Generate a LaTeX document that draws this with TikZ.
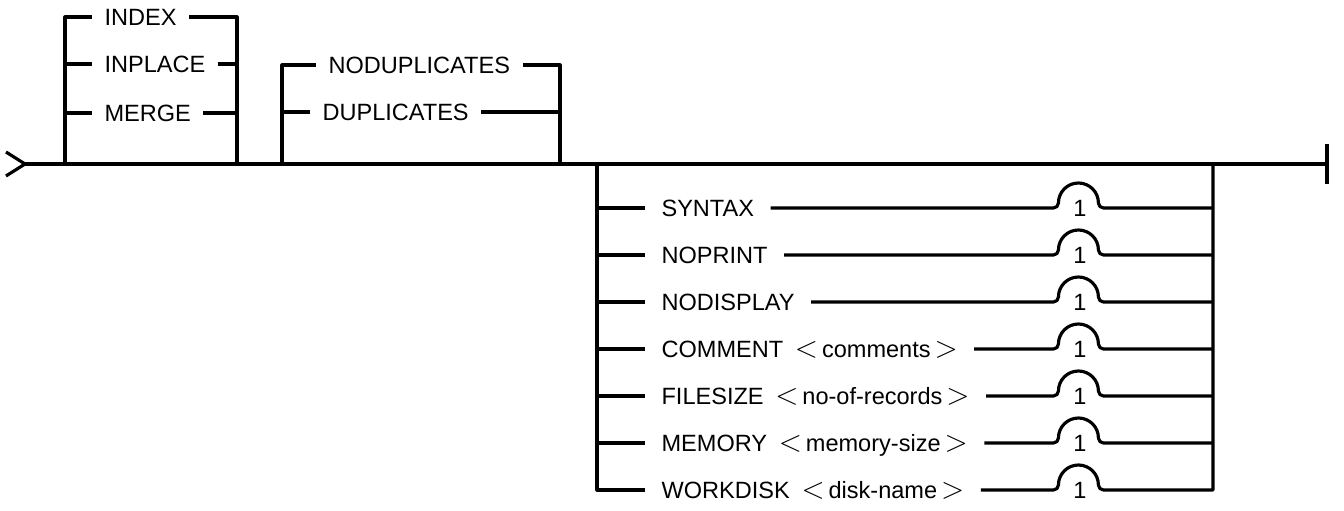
\documentclass[tikz,border=0pt]{standalone}
\usepackage{fontspec}
\setmainfont{Liberation Sans}
\usepackage{tikz}
\usetikzlibrary{positioning,calc}
\newcommand\angl[1]{{\fontsize{17}{17}\selectfont$#1$}}
\newcommand\param[1]{\angl{<}\,#1\,\angl{>}}
\tikzset{
  syn/.style={x=0.02cm,y=0.02cm,line width=1.8pt,line join=round,
    every node/.style={font=\fontsize{13.4}{15}\selectfont}},
  rail/.style={draw=black,line width=1.8pt},
  word/.style={anchor=west,inner xsep=0.22cm,inner ysep=0pt,
    text height=9.6pt,text depth=0pt},
  optword/.style={word,inner xsep=0.3cm},
  bumpnum/.style={minimum width=1cm,inner sep=0pt,
    text height=9.6pt,text depth=0pt},
  hump/.style={insert path={to[out=0,in=-90] ++(5,5)
    arc[start angle=180,end angle=0,radius=0.4cm] to[out=-90,in=180] ++(5,-5)}}}

\begin{document}
\begin{tikzpicture}[syn]
  \useasboundingbox (0,0) rectangle (1344,510);
  % main line
  \coordinate (entry) at (25,346);
  \coordinate (chevT) at (6,358);
  \coordinate (chevB) at (6,334);
  \coordinate (exit) at (1327,346);
  \coordinate (exitT) at (1327,366);
  \coordinate (exitB) at (1327,326);
  \draw[rail] (chevT) -- (entry) -- (chevB);
  \draw[rail] (entry) -- (exit);
  \draw[rail] (exitT) -- (exitB);

  % INDEX / INPLACE / MERGE
  \coordinate (a0) at (65,346);
  \coordinate (a1) at (237,346);
  \node[word] (wIndex) at (92,493) {INDEX};
  \node[word] (wInplace) at (92,446) {INPLACE};
  \node[word] (wMerge) at (92,397) {MERGE};
  \draw[rail] (a0) |- (wIndex);
  \draw[rail] (wIndex) -| (a1);
  \draw[rail] (wInplace -| a0) -- (wInplace) -- (wInplace -| a1);
  \draw[rail] (wMerge -| a0) -- (wMerge) -- (wMerge -| a1);

  % NODUPLICATES / DUPLICATES
  \coordinate (b0) at (282,346);
  \coordinate (b1) at (560,346);
  \node[word] (wNodup) at (316,445) {NODUPLICATES};
  \node[word] (wDup) at (310,398) {DUPLICATES};
  \draw[rail] (b0) |- (wNodup);
  \draw[rail] (wNodup) -| (b1);
  \draw[rail] (wDup -| b0) -- (wDup) -- (wDup -| b1);

  % options
  \coordinate (c0) at (597,346);
  \coordinate (c1) at (1213,346);
  \node[optword] (wSyntax) at (645,302) {SYNTAX};
  \node[optword] (wNoprint) at (645,255) {NOPRINT};
  \node[optword] (wNodisplay) at (645,208) {NODISPLAY};
  \node[optword] (wComment) at (645,161) {COMMENT\enspace\param{comments}};
  \node[optword] (wFilesize) at (645,114) {FILESIZE\enspace\param{no-of-records}};
  \node[optword] (wMemory) at (645,67) {MEMORY\enspace\param{memory-size}};
  \node[optword] (wWorkdisk) at (645,20) {WORKDISK\enspace\param{disk-name}};
  \node[bumpnum] (kSyntax) at (1080,302) {1};
  \node[bumpnum] (kNoprint) at (1080,255) {1};
  \node[bumpnum] (kNodisplay) at (1080,208) {1};
  \node[bumpnum] (kComment) at (1080,161) {1};
  \node[bumpnum] (kFilesize) at (1080,114) {1};
  \node[bumpnum] (kMemory) at (1080,67) {1};
  \node[bumpnum] (kWorkdisk) at (1080,20) {1};
  \draw[rail] (c0) |- (wWorkdisk);
  \draw[rail] (wSyntax -| c0) -- (wSyntax);
  \draw[rail] (wNoprint -| c0) -- (wNoprint);
  \draw[rail] (wNodisplay -| c0) -- (wNodisplay);
  \draw[rail] (wComment -| c0) -- (wComment);
  \draw[rail] (wFilesize -| c0) -- (wFilesize);
  \draw[rail] (wMemory -| c0) -- (wMemory);
  \draw[rail] (wSyntax) -- (kSyntax.west) [hump] -- (kSyntax -| c1);
  \draw[rail] (wNoprint) -- (kNoprint.west) [hump] -- (kNoprint -| c1);
  \draw[rail] (wNodisplay) -- (kNodisplay.west) [hump] -- (kNodisplay -| c1);
  \draw[rail] (wComment) -- (kComment.west) [hump] -- (kComment -| c1);
  \draw[rail] (wFilesize) -- (kFilesize.west) [hump] -- (kFilesize -| c1);
  \draw[rail] (wMemory) -- (kMemory.west) [hump] -- (kMemory -| c1);
  \draw[rail] (wWorkdisk) -- (kWorkdisk.west) [hump] -| (c1);
\end{tikzpicture}
\end{document}
